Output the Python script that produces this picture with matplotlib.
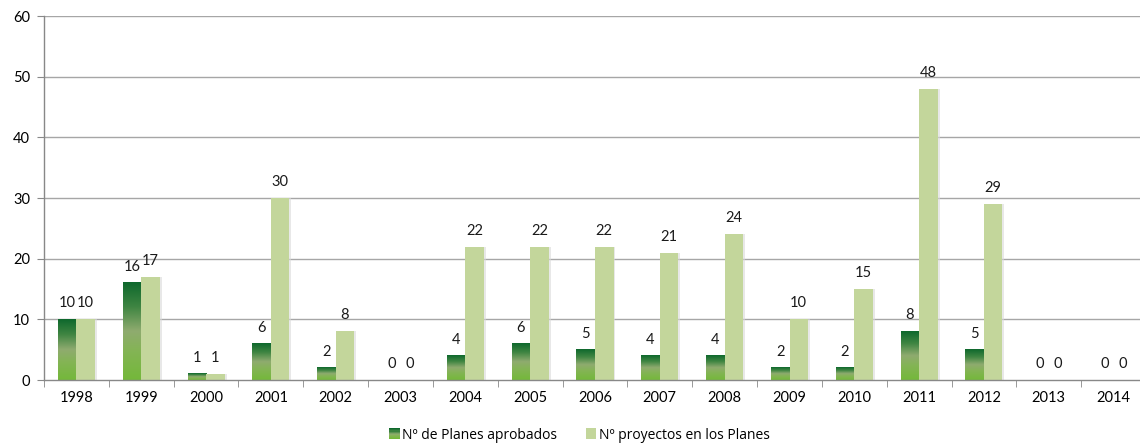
import numpy as np
import matplotlib
matplotlib.use("Agg")
import matplotlib.pyplot as plt
from matplotlib.patches import Rectangle
from matplotlib.colors import LinearSegmentedColormap
from matplotlib.legend_handler import HandlerBase

plt.rcParams['font.family'] = ['Lato', 'DejaVu Sans']

years = ['1998', '1999', '2000', '2001', '2002', '2003', '2004', '2005', '2006',
         '2007', '2008', '2009', '2010', '2011', '2012', '2013', '2014']
planes = [10, 16, 1, 6, 2, 0, 4, 6, 5, 4, 4, 2, 2, 8, 5, 0, 0]
proyectos = [10, 17, 1, 30, 8, 0, 22, 22, 22, 21, 24, 10, 15, 48, 29, 0, 0]
series_names = ['Nº de Planes aprobados', 'Nº proyectos en los Planes']
y_ticks = [0, 10, 20, 30, 40, 50, 60]

light_color = '#c3d69b'
grad = LinearSegmentedColormap.from_list(
    'planes', [(0.0, '#74b83a'), (0.3, '#84b455'), (0.5, '#8fab6f'),
               (0.75, '#3f8542'), (1.0, '#0e682d')])

fig = plt.figure(figsize=(11.4, 4.44), dpi=100)
ax = fig.add_axes([44 / 1140, 64 / 444, 1102 / 1140, 364 / 444])

n = len(years)
x = np.arange(n)
w = 0.285
off = 0.143
label_gap = 6.5

ax.set_xlim(-0.5, n - 0.5)
ax.set_ylim(0, 60)

# horizontal grid
for yv in y_ticks[1:]:
    ax.axhline(yv, color='#a6a6a6', lw=1.0, zorder=0)

gimg = np.linspace(0, 1, 256).reshape(-1, 1)

for xi, v in zip(x, planes):
    if v > 0:
        ax.imshow(gimg, cmap=grad, origin='lower', aspect='auto',
                  extent=[xi - off - w / 2, xi - off + w / 2, 0, v], zorder=2,
                  interpolation='bilinear')
    ax.annotate(str(v), (xi - off, v), xytext=(0, label_gap), textcoords='offset points',
                ha='center', va='bottom', fontsize=10.5, color='#1a1a1a')

for xi, v in zip(x, proyectos):
    if v > 0:
        ax.add_patch(Rectangle((xi + off - w / 2 + 0.03, 0), w, v,
                               facecolor='#d9d9d9', edgecolor='none', alpha=0.6, zorder=1.5))
        ax.add_patch(Rectangle((xi + off - w / 2, 0), w, v,
                               facecolor=light_color, edgecolor='none', zorder=2))
    ax.annotate(str(v), (xi + off, v), xytext=(0, label_gap), textcoords='offset points',
                ha='center', va='bottom', fontsize=10.5, color='#1a1a1a')

ax.set_xticks(x)
ax.set_xticklabels(years, fontsize=10.5)
ax.set_xticks(np.arange(-0.5, n, 1.0), minor=True)
ax.tick_params(axis='x', which='major', length=0, pad=8)
ax.tick_params(axis='x', which='minor', length=5, color='#888888', direction='out')
ax.set_yticks(y_ticks)
ax.set_yticklabels([str(t) for t in y_ticks], fontsize=10.5)
ax.tick_params(axis='y', length=5, color='#888888', pad=5)

for s in ['top', 'right']:
    ax.spines[s].set_visible(False)
for s in ['left', 'bottom']:
    ax.spines[s].set_color('#888888')
    ax.spines[s].set_linewidth(1.0)


class GradientHandler(HandlerBase):
    def create_artists(self, legend, orig_handle, xdescent, ydescent,
                       width, height, fontsize, trans):
        artists = []
        steps = 10
        side = height
        x0 = -xdescent + width - side
        for i in range(steps):
            c = grad(i / (steps - 1))
            r = Rectangle((x0, -ydescent + side * i / steps), side, side / steps,
                          facecolor=c, edgecolor='none', transform=trans)
            artists.append(r)
        return artists


class SquareHandler(HandlerBase):
    def create_artists(self, legend, orig_handle, xdescent, ydescent,
                       width, height, fontsize, trans):
        side = height
        r = Rectangle((-xdescent + width - side, -ydescent), side, side,
                      facecolor=light_color, edgecolor='none', transform=trans)
        return [r]


h1 = Rectangle((0, 0), 1, 1)
h2 = Rectangle((0, 0), 1, 1, facecolor=light_color)
fig.legend([h1, h2], series_names, loc='center', bbox_to_anchor=(0.508, 9 / 444),
           ncol=2, frameon=False, prop={'family': ['Open Sans', 'DejaVu Sans'], 'size': 10},
           handlelength=0.8, handleheight=0.8,
           handletextpad=0.2, columnspacing=2.0,
           handler_map={h1: GradientHandler(), h2: SquareHandler()})

fig.savefig('out.png', dpi=100)
